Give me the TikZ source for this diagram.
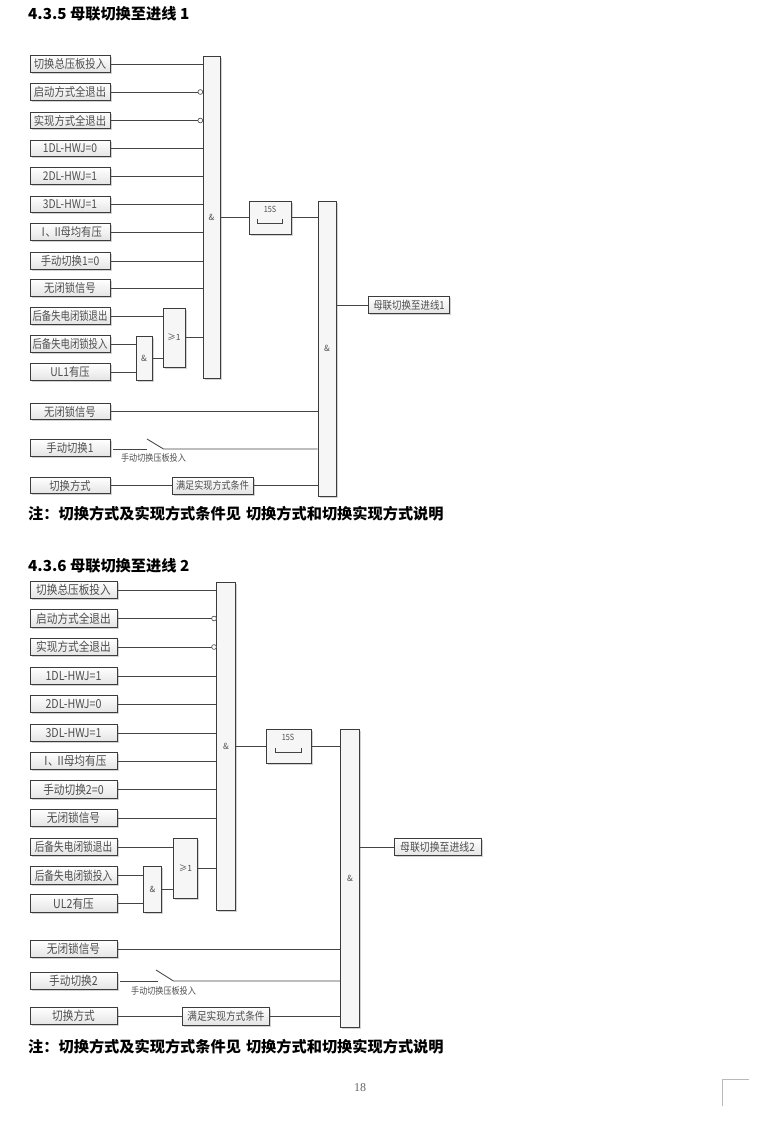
\documentclass[tikz,border=0pt]{standalone}
\usepackage{graphicx}
\usepackage{fontspec}
\setmainfont{Noto Sans CJK SC}
\newfontfamily\pagefont{Liberation Serif}
\usetikzlibrary{shadows}
\definecolor{bordc}{HTML}{3C3C3C}
\definecolor{txtc}{HTML}{4E4E4E}
\definecolor{wirec}{HTML}{444444}
\definecolor{boxlo}{HTML}{E4E4E4}
\newcommand{\nx}[1]{\scalebox{0.86}[1]{#1}}
\newcommand{\ny}[1]{\scalebox{0.78}[1]{#1}}
\newcommand{\rom}{Ⅰ\hspace{-0.28em}、\hspace{-0.32em}Ⅱ\hspace{-0.22em}}
\tikzset{
  sh/.style={drop shadow={shadow xshift=1.6pt,shadow yshift=-1.6pt,opacity=0.35,fill=gray}},
  ibox/.style={draw=bordc, line width=0.8pt, top color=white, bottom color=boxlo, sh,
    inner sep=0pt, text=txtc, font=\fontsize{12}{12}\selectfont},
  ibA/.style={ibox, minimum width=80pt, minimum height=16.5pt},
  ibB/.style={ibox, minimum width=87pt, minimum height=17.5pt, font=\fontsize{12.4}{12.4}\selectfont},
  gate/.style={draw=bordc, line width=0.8pt, fill=gray!7, sh, inner sep=0pt,
    text=txtc, font=\fontsize{8.5}{8.5}\selectfont},
  wire/.style={draw=wirec, line width=0.85pt},
  inv/.style={draw=wirec, line width=0.6pt, fill=white, circle, inner sep=0pt, minimum size=4.8pt},
  ttl/.style={anchor=west, inner sep=0pt, font=\fontsize{15.2}{15.2}\selectfont\bfseries},
  swlab/.style={inner sep=0pt, text=txtc, font=\fontsize{9.4}{9.4}\selectfont},
  tlab/.style={inner sep=0pt, text=txtc, font=\fontsize{8.5}{8.5}\selectfont}
}
\begin{document}
\begin{tikzpicture}[x=1pt,y=-1pt]
\useasboundingbox (0,0) rectangle (775,1121);
\fill[white] (0,0) rectangle (775,1121);

% ================= Diagram 1 =================
\node[ttl] (t435) at (28,14) {4.3.5 母联切换至进线 1};

\node[ibA] (a1) at (70,64) {\nx{切换总压板投入}};
\node[ibA] (a2) at (70,92) {\nx{启动方式全退出}};
\node[ibA] (a3) at (70,120.5) {\nx{实现方式全退出}};
\node[ibA] (a4) at (70,148.5) {\nx{1DL-HWJ=0}};
\node[ibA] (a5) at (70,176) {\nx{2DL-HWJ=1}};
\node[ibA] (a6) at (70,204.5) {\nx{3DL-HWJ=1}};
\node[ibA] (a7) at (70,232) {\nx{\rom 母均有压}};
\node[ibA] (a8) at (70,261) {\nx{手动切换1=0}};
\node[ibA] (a9) at (70,288) {\nx{无闭锁信号}};
\node[ibA] (a10) at (70,316) {\ny{后备失电闭锁退出}};
\node[ibA] (a11) at (70,344) {\ny{后备失电闭锁投入}};
\node[ibA] (a12) at (70,372) {\nx{UL1有压}};
\node[ibA] (c1) at (70,411.5) {\nx{无闭锁信号}};
\node[ibA] (c2) at (70,448) {\nx{手动切换1}};
\node[ibA] (c3) at (70,485.5) {\nx{切换方式}};

\node[gate, minimum width=17pt, minimum height=322pt] (g1) at (211.5,217) {\&};
\node[gate, minimum width=22pt, minimum height=59pt] (or1) at (174,337.5) {≥1};
\node[gate, minimum width=16pt, minimum height=44pt] (and1) at (144,358) {\&};
\node[gate, minimum width=42pt, minimum height=33pt] (tm1) at (270,217.5) {};
\node[tlab] (tm1l) at (270,209) {\nx{15S}};
\draw[wirec, line width=0.6pt] (257.5,219) -- (257.5,223) -- (282,223) -- (282,219);
\node[gate, minimum width=18pt, minimum height=295pt] (g2) at (327,348.5) {\&};
\node[ibox, minimum width=81pt, minimum height=16.5pt, font=\fontsize{11}{11}\selectfont] (o1) at (409,305) {\nx{母联切换至进线1}};
\node[ibox, minimum width=81pt, minimum height=17pt, font=\fontsize{10.6}{10.6}\selectfont] (m1) at (212.5,485.5) {\nx{满足实现方式条件}};

\foreach \n in {a1,a4,a5,a6,a7,a8,a9}
  \draw[wire] (\n.east) -- (\n.east -| g1.west);
\foreach \n in {a2,a3}{
  \draw[wire] (\n.east) -- ([xshift=-4.6pt]\n.east -| g1.west);
  \node[inv] (\n i) at ([xshift=-2.3pt]\n.east -| g1.west) {};
}
\draw[wire] (a10.east) -- (a10.east -| or1.west);
\draw[wire] (a11.east) -- (a11.east -| and1.west);
\draw[wire] (a12.east) -- (a12.east -| and1.west);
\draw[wire] (and1.east) -- (and1.east -| or1.west);
\draw[wire] (or1.east) -- (or1.east -| g1.west);
\draw[wire] (g1.east |- tm1.west) -- (tm1.west);
\draw[wire] (tm1.east) -- (tm1.east -| g2.west);
\draw[wire] (g2.east |- o1.west) -- (o1.west);
\draw[wire] (c1.east) -- (c1.east -| g2.west);
\coordinate (s1a) at (147,449);
\coordinate (s1t) at (147,439);
\coordinate (s1b) at (163.5,449);
\draw[wire] ([xshift=3pt]c2.east |- s1a) -- (s1a);
\draw[wire] (s1t) -- (s1b) -- (s1b -| g2.west);
\node[swlab] (sl1) at (153.5,458) {\nx{手动切换压板投入}};
\draw[wire] (c3.east) -- (m1.west);
\draw[wire] (m1.east) -- (m1.east -| g2.west);

\node[ttl] (n1) at (28,514) {注：切换方式及实现方式条件见\hspace{0.1em} 切换方式和切换实现方式说明};

% ================= Diagram 2 =================
\node[ttl] (t436) at (28,566) {4.3.6 母联切换至进线 2};

\node[ibB] (b1) at (73.5,590) {\nx{切换总压板投入}};
\node[ibB] (b2) at (73.5,618.5) {\nx{启动方式全退出}};
\node[ibB] (b3) at (73.5,647) {\nx{实现方式全退出}};
\node[ibB] (b4) at (73.5,676) {\nx{1DL-HWJ=1}};
\node[ibB] (b5) at (73.5,704) {\nx{2DL-HWJ=0}};
\node[ibB] (b6) at (73.5,733) {\nx{3DL-HWJ=1}};
\node[ibB] (b7) at (73.5,761) {\nx{\rom 母均有压}};
\node[ibB] (b8) at (73.5,789.5) {\nx{手动切换2=0}};
\node[ibB] (b9) at (73.5,818) {\nx{无闭锁信号}};
\node[ibB] (b10) at (73.5,847) {\ny{后备失电闭锁退出}};
\node[ibB] (b11) at (73.5,875.5) {\ny{后备失电闭锁投入}};
\node[ibB] (b12) at (73.5,903.5) {\nx{UL2有压}};
\node[ibB] (d1) at (73.5,949) {\nx{无闭锁信号}};
\node[ibB] (d2) at (73.5,981) {\nx{手动切换2}};
\node[ibB] (d3) at (73.5,1016) {\nx{切换方式}};

\node[gate, minimum width=18.5pt, minimum height=328pt] (h1) at (226,746) {\&};
\node[gate, minimum width=24pt, minimum height=60pt] (or2) at (185.5,868.3) {≥1};
\node[gate, minimum width=18.5pt, minimum height=46pt] (and2) at (152.5,889) {\&};
\node[gate, minimum width=45pt, minimum height=34pt] (tm2) at (288.5,746) {};
\node[tlab] (tm2l) at (288,737) {\nx{15S}};
\draw[wirec, line width=0.6pt] (275,747.5) -- (275,752) -- (301,752) -- (301,747.5);
\node[gate, minimum width=18.5pt, minimum height=298pt] (h2) at (350,878) {\&};
\node[ibox, minimum width=87pt, minimum height=17.5pt, font=\fontsize{11.5}{11.5}\selectfont] (o2) at (437.5,847) {\nx{母联切换至进线2}};
\node[ibox, minimum width=86.5pt, minimum height=18pt, font=\fontsize{11.2}{11.2}\selectfont] (m2) at (226,1016) {\nx{满足实现方式条件}};

\foreach \n in {b1,b4,b5,b6,b7,b8,b9}
  \draw[wire] (\n.east) -- (\n.east -| h1.west);
\foreach \n in {b2,b3}{
  \draw[wire] (\n.east) -- ([xshift=-4.6pt]\n.east -| h1.west);
  \node[inv] (\n i) at ([xshift=-2.3pt]\n.east -| h1.west) {};
}
\draw[wire] (b10.east) -- (b10.east -| or2.west);
\draw[wire] (b11.east) -- (b11.east -| and2.west);
\draw[wire] (b12.east) -- (b12.east -| and2.west);
\draw[wire] (and2.east) -- (and2.east -| or2.west);
\draw[wire] (or2.east) -- (or2.east -| h1.west);
\draw[wire] (h1.east |- tm2.west) -- (tm2.west);
\draw[wire] (tm2.east) -- (tm2.east -| h2.west);
\draw[wire] (h2.east |- o2.west) -- (o2.west);
\draw[wire] (d1.east) -- (d1.east -| h2.west);
\coordinate (s2a) at (157.5,981);
\coordinate (s2t) at (156,970);
\coordinate (s2b) at (173.5,981);
\draw[wire] ([xshift=3pt]d2.east |- s2a) -- (s2a);
\draw[wire] (s2t) -- (s2b) -- (s2b -| h2.west);
\node[swlab] (sl2) at (163.5,990.5) {\nx{手动切换压板投入}};
\draw[wire] (d3.east) -- (m2.west);
\draw[wire] (m2.east) -- (m2.east -| h2.west);

\node[ttl] (n2) at (28,1046.5) {注：切换方式及实现方式条件见\hspace{0.1em} 切换方式和切换实现方式说明};

% page footer
\node[inner sep=0pt, text=gray!80!black, font=\pagefont\fontsize{12}{12}\selectfont] (pg) at (360,1088) {18};
\coordinate (cA) at (749,1079.5);
\coordinate (cB) at (722.5,1079.5);
\coordinate (cC) at (722.5,1106);
\draw[gray!55, line width=0.8pt] (cA) -- (cB) -- (cC);
\end{tikzpicture}
\end{document}
